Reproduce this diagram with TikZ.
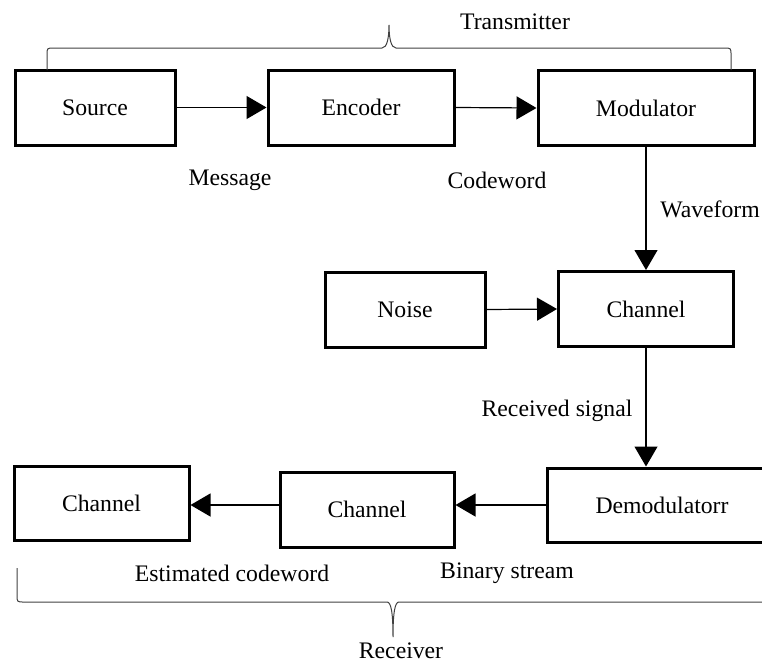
\documentclass[tikz,border=0pt]{standalone}
\usepackage{fontspec}
\setmainfont{Liberation Serif}
\usetikzlibrary{arrows.meta}

\begin{document}
\begin{tikzpicture}[x=1pt,y=-1pt]
\tikzstyle{every node}=[font=\fontsize{23.7}{28}\selectfont]
\tikzstyle{block}=[draw,line width=3pt,inner sep=0pt,minimum height=75pt]
\tikzstyle{sig}=[line width=1.2pt,-{Triangle[length=20pt,width=23pt]}]
\tikzstyle{brace}=[line width=1pt,black!75]
\useasboundingbox (0,0) rectangle (762,664);
\clip (0,0) rectangle (762,664);
% transmitter side
\node[block,minimum width=160pt] (source) at (95,107.5) {Source};
\node[block,minimum width=186pt] (encoder) at (361,107.5) {Encoder};
\node[block,minimum width=216pt] (modulator) at (646,108) {Modulator};
\node[block,minimum width=160pt] (noise) at (405,309.5) {Noise};
\node[block,minimum width=175pt] (channel) at (646,309) {Channel};
% receiver side
\node[block,minimum width=230pt,minimum height=74pt] (demod) at (662,505) {Demodulatorr};
\node[block,minimum width=174pt] (chanmid) at (367,509.5) {Channel};
\node[block,minimum width=175pt,minimum height=74pt] (chanleft) at (101.5,503) {Channel};
\draw[sig] (source.east) -- (encoder.west);
\draw[sig] (encoder.east) -- (modulator.west);
\draw[sig] (modulator.south) -- (channel.north);
\draw[sig] (noise.east) -- (channel.west);
\draw[sig] (channel.south) -- (channel.south |- demod.north);
\draw[sig] (demod.west) -- (chanmid.east |- demod.west);
\draw[sig] (chanmid.west |- demod.west) -- (chanleft.east |- demod.west);
% labels
\node (msg) at (230,180) {Message};
\node (cw) at (497,180) {Codeword};
\node (wave) at (710,209) {Waveform};
\node (rx) at (557,411) {Received signal};
\node (est) at (232,573) {Estimated codeword};
\node (bin) at (507,573) {Binary stream};
\node (txlab) at (515,22) {Transmitter};
\node (rxlab) at (401,651) {Receiver};
% braces
\draw[brace] (47,70) -- (47,55) .. controls (47,48) .. (54,48) -- (382,48)
  .. controls (387,48) and (389,38) .. (389,25)
  .. controls (389,38) and (391,48) .. (396,48) -- (724,48)
  .. controls (731,48) .. (731,55) -- (731,70);
\draw[brace] (17,568) -- (17,595) .. controls (17,602) .. (24,602) -- (387,602)
  .. controls (391,602) and (393,612) .. (393,637)
  .. controls (393,612) and (395,602) .. (399,602) -- (770,602)
  .. controls (777,602) .. (777,595) -- (777,568);
\end{tikzpicture}
\end{document}
